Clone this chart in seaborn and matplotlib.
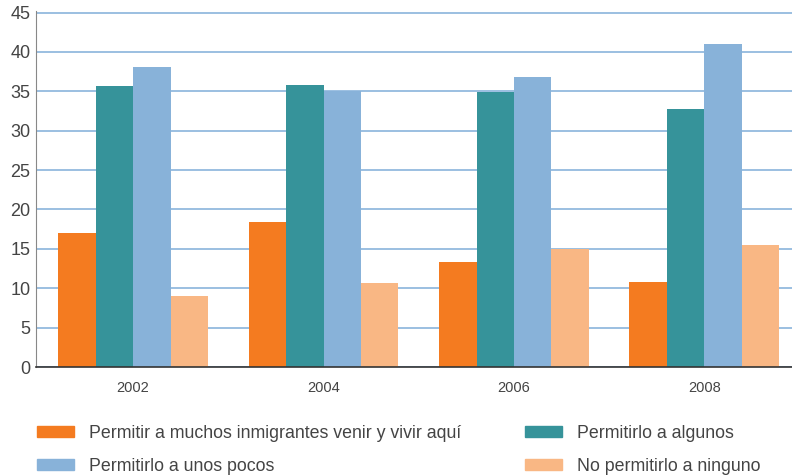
import matplotlib
matplotlib.use('Agg')
import matplotlib.pyplot as plt
import seaborn as sns
import pandas as pd
from matplotlib.patches import Patch

years = ['2002', '2004', '2006', '2008']
series = ['Permitir a muchos inmigrantes venir y vivir aquí',
          'Permitirlo a algunos',
          'Permitirlo a unos pocos',
          'No permitirlo a ninguno']
muchos = [17.0, 18.4, 13.3, 10.8]
algunos = [35.7, 35.8, 34.9, 32.7]
pocos = [38.1, 35.1, 36.8, 41.0]
ninguno = [9.0, 10.7, 15.0, 15.5]
colors = ['#f47b20', '#36939a', '#88b2d9', '#f9b784']

rows = []
for name, vals in zip(series, [muchos, algunos, pocos, ninguno]):
    for y, v in zip(years, vals):
        rows.append({'year': y, 'serie': name, 'valor': v})
df = pd.DataFrame(rows)

sns.set_style('white')
plt.rcParams['font.family'] = ['Liberation Sans', 'DejaVu Sans']

fig = plt.figure(figsize=(7.92, 4.76), dpi=100)
ax = fig.add_axes([36/792, 109/476, 1 - 36/792, 356/476])

sns.barplot(data=df, x='year', y='valor', hue='serie', hue_order=series,
            palette=colors, width=0.787, gap=0, saturation=1, linewidth=0,
            ax=ax, legend=False)

ax.set_ylim(0, 45.2)
ax.set_xlim(-0.51, 3.46)
ax.set_yticks(range(0, 46, 5))
ax.yaxis.grid(True, color='#8ab4dc', lw=1.2)
ax.set_axisbelow(True)
ax.set_xlabel('')
ax.set_ylabel('')

for s in ['top', 'right']:
    ax.spines[s].set_visible(False)
ax.spines['left'].set_color('#888888')
ax.spines['bottom'].set_color('#333333')
ax.spines['bottom'].set_linewidth(1.2)

ax.tick_params(axis='y', length=0, pad=4, labelsize=13, labelcolor='#444444')
ax.tick_params(axis='x', which='major', length=0, pad=10, labelsize=10.5, labelcolor='#444444')
ax.set_xticks([0.5, 1.5, 2.5], minor=True)
ax.tick_params(axis='x', which='minor', direction='in', length=8, color='#666666', width=1.2)

handles = [Patch(color=colors[i], label=series[i]) for i in [0, 2, 1, 3]]
fig.legend(handles=handles, loc='upper left', bbox_to_anchor=(37/792, 1 - 425/476),
           ncol=2, frameon=False, fontsize=12.8, handlelength=2.1, handleheight=0.55,
           handletextpad=0.85, labelspacing=0.9, columnspacing=3.55,
           borderpad=0, borderaxespad=0, labelcolor='#444444')

fig.savefig('out.png', dpi=100)
